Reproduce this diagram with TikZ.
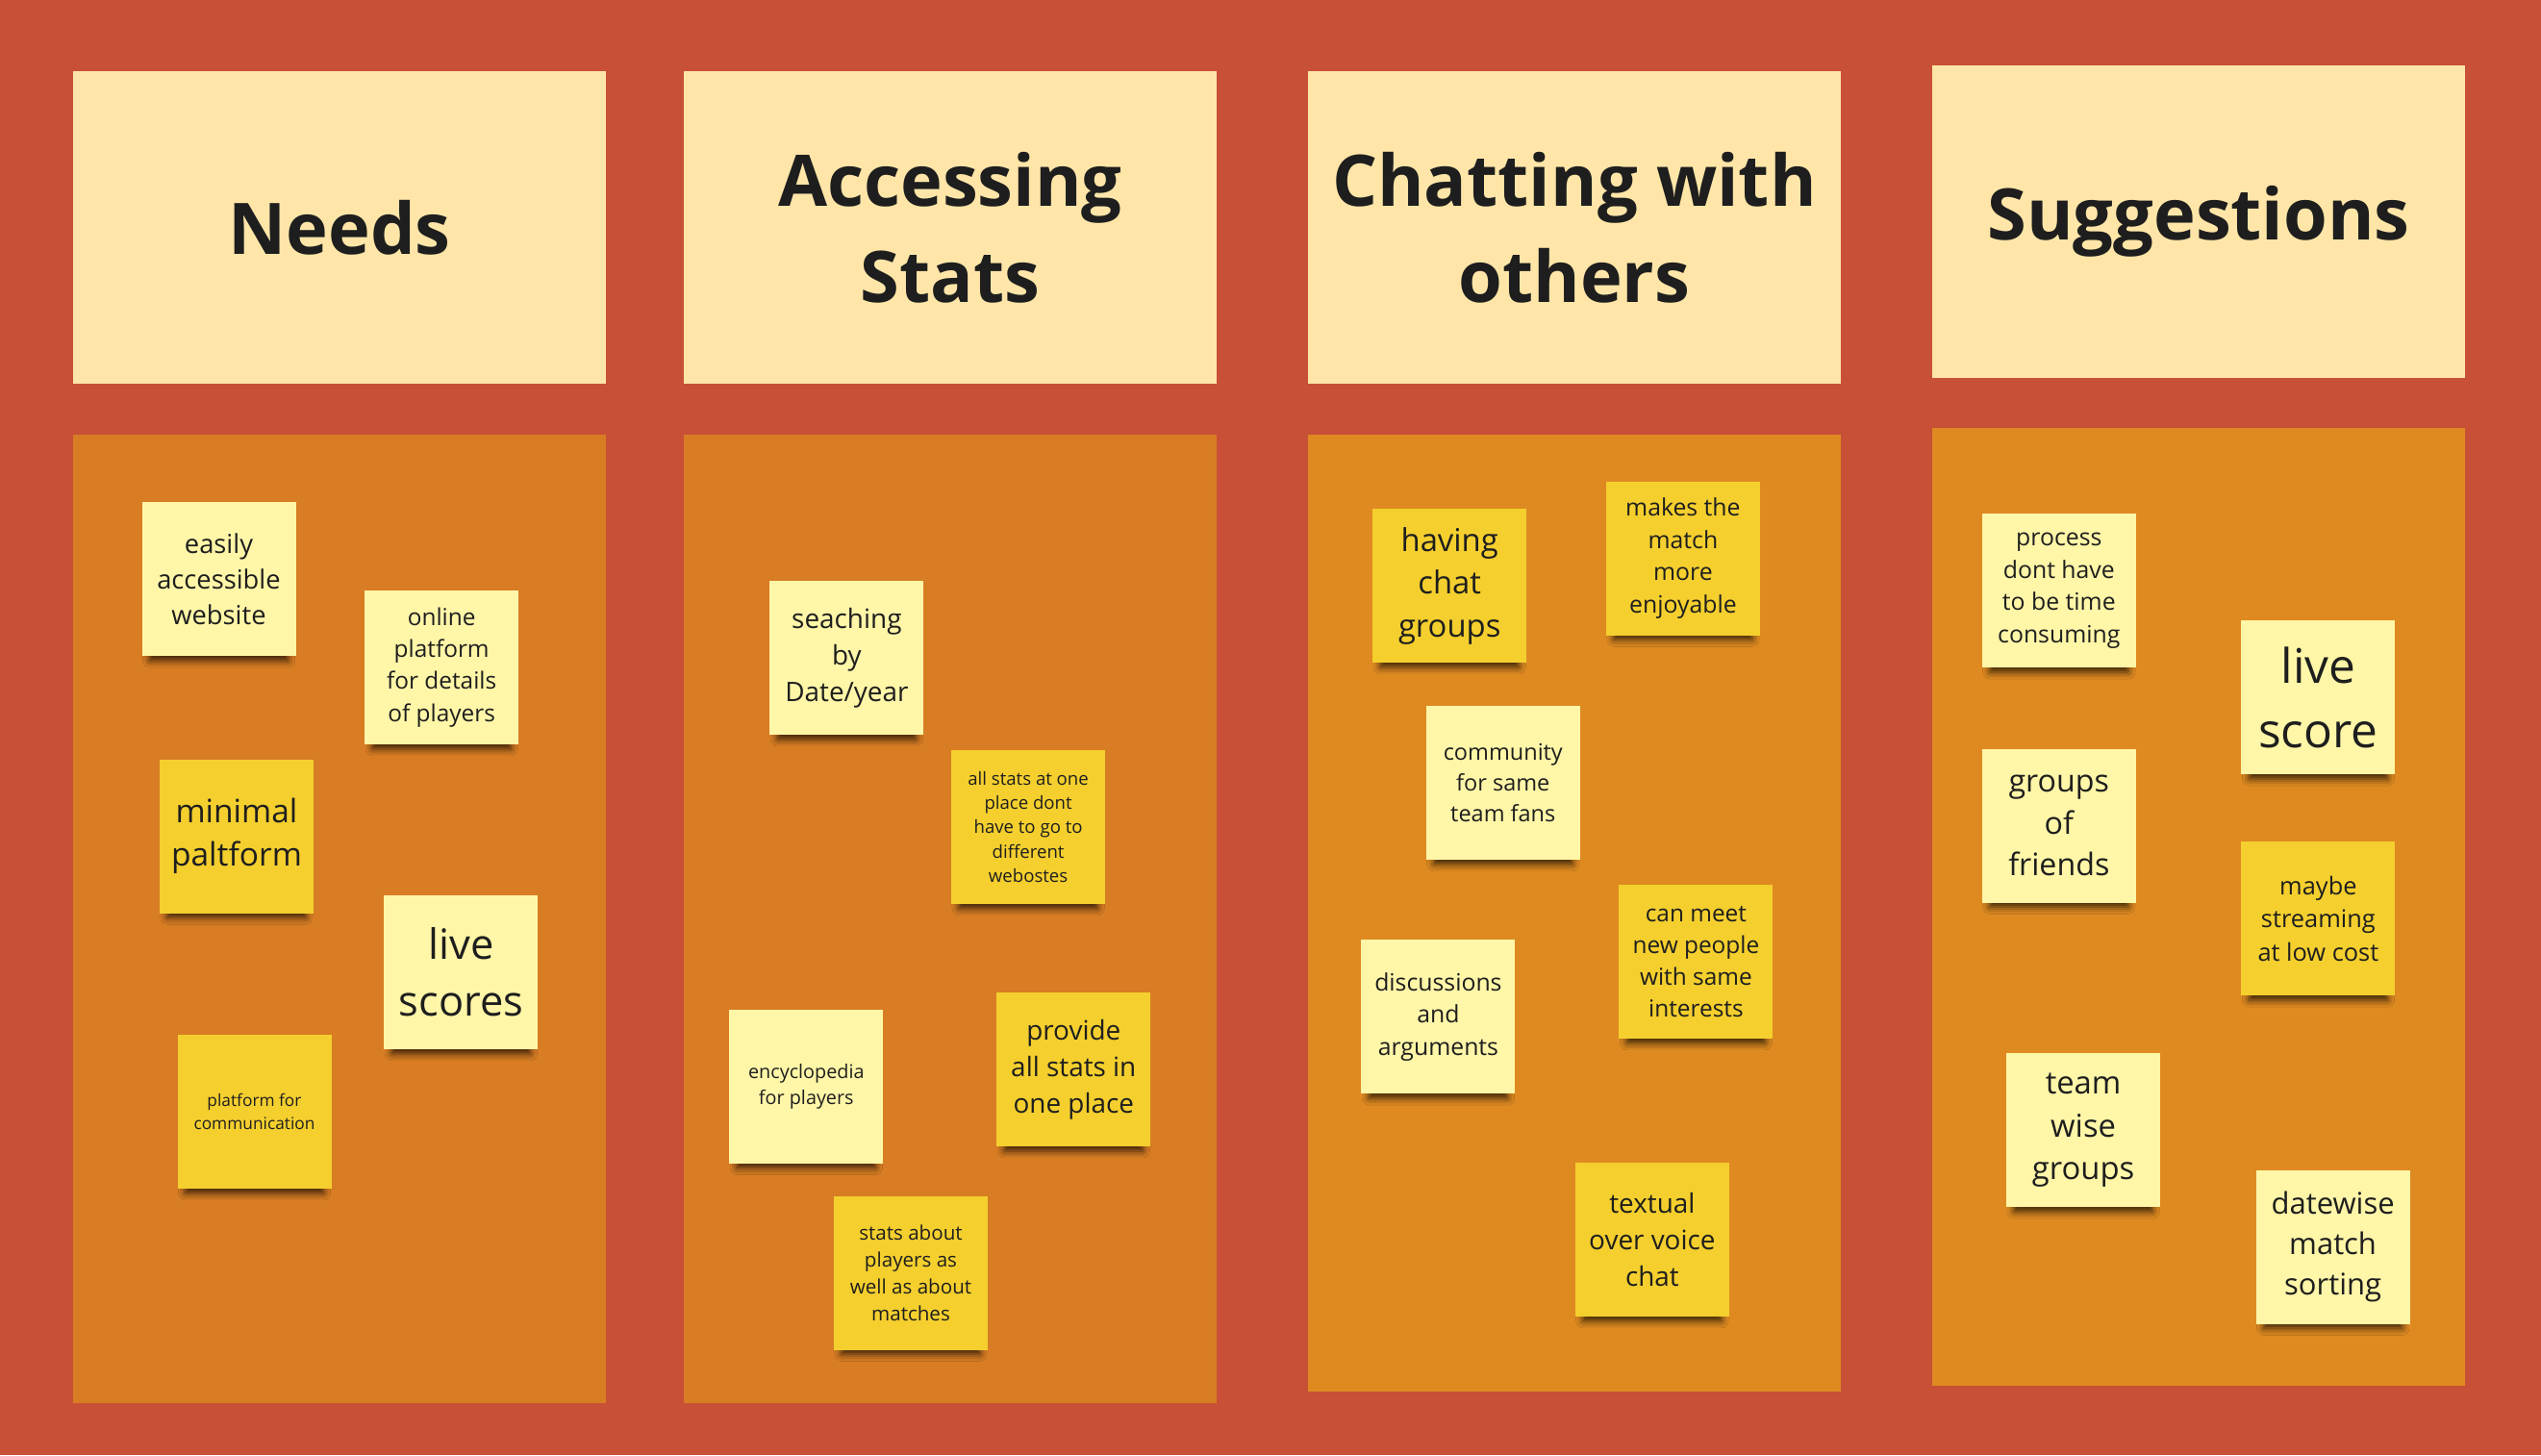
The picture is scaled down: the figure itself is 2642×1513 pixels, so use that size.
\documentclass[tikz,border=0pt]{standalone}
\usepackage{fontspec}
\setmainfont{Open Sans}
\usetikzlibrary{shadows.blur}

\definecolor{boardred}{HTML}{C75036}
\definecolor{headfill}{HTML}{FFE6A8}
\definecolor{laneA}{HTML}{D87D24}
\definecolor{laneB}{HTML}{DE8A21}
\definecolor{notelight}{HTML}{FFF6A8}
\definecolor{notedark}{HTML}{F4CF2E}
\definecolor{ink}{HTML}{1E1E1E}

\tikzset{
  header/.style={fill=headfill, minimum width=554pt, minimum height=325pt,
    inner sep=0pt, align=center, text=ink,
    font={\fontsize{74}{100}\selectfont\bfseries}},
  lane/.style={minimum width=554pt, inner sep=0pt},
  stickynote/.style={minimum width=160pt, minimum height=160pt, inner sep=0pt,
    align=center, text=ink,
    blur shadow={shadow xshift=0pt, shadow yshift=-14pt, shadow scale=0.9,
      shadow blur radius=8pt, shadow opacity=75}},
  light/.style={stickynote, fill=notelight},
  dark/.style={stickynote, fill=notedark},
}

% name, x, y, style, font size, line skip, text
\newcommand{\sticky}[7]{%
  \node[#4, font={\fontsize{#5}{#6}\selectfont}] (#1) at (#2,#3) {#7};}

\begin{document}
\begin{tikzpicture}[x=1pt, y=-1pt]
  \fill[boardred] (0,0) rectangle (2642,1513);
  \useasboundingbox (0,0) rectangle (2642,1513);

  % column headers
  \node[header] (hneeds) at (353,236.5) {Needs};
  \node[header] (hstats) at (988,236.5) {Accessing\\Stats};
  \node[header] (hchat)  at (1637,236.5) {Chatting with\\others};
  \node[header] (hsugg)  at (2286,230) {Suggestions};

  % lanes
  \node[lane, fill=laneA, minimum height=1007pt] (lneeds) at (353,955.5) {};
  \node[lane, fill=laneA, minimum height=1007pt] (lstats) at (988,955.5) {};
  \node[lane, fill=laneB, minimum height=995pt]  (lchat)  at (1637,949.5) {};
  \node[lane, fill=laneB, minimum height=996pt]  (lsugg)  at (2286,943) {};

  % Needs
  \sticky{n1}{227.5}{602.4}{light}{27.3}{37}{easily\\accessible\\website}
  \sticky{n2}{459.2}{694}{light}{24.4}{33.2}{online\\platform\\for details\\of players}
  \sticky{n3}{246}{869.5}{dark}{33.5}{45.5}{minimal\\paltform}
  \sticky{n4}{479.4}{1011}{light}{43.4}{59}{live\\scores}
  \sticky{n5}{264.5}{1156}{dark}{17.3}{23.6}{platform for\\communication}

  % Accessing Stats
  \sticky{s1}{880.4}{684.1}{light}{27.9}{37.9}{seaching\\by\\Date/year}
  \sticky{s2}{1069.1}{860}{dark}{18.6}{25.3}{all stats at one\\place dont\\have to go to\\different\\webostes}
  \sticky{s3}{838.3}{1129.8}{light}{19.8}{27}{encyclopedia\\for players}
  \sticky{s4}{1116.3}{1112.1}{dark}{27.9}{37.9}{provide\\all stats in\\one place}
  \sticky{s5}{947}{1323.5}{dark}{20.6}{28}{stats about\\players as\\well as about\\matches}

  % Chatting with others
  \sticky{c1}{1507.2}{609.1}{dark}{32.8}{44.6}{having\\chat\\groups}
  \sticky{c2}{1749.9}{580.5}{dark}{24.8}{33.7}{makes the\\match\\more\\enjoyable}
  \sticky{c3}{1562.8}{814}{light}{23.5}{32}{community\\for same\\team fans}
  \sticky{c4}{1495.4}{1057.3}{light}{24.8}{33.7}{discussions\\and\\arguments}
  \sticky{c5}{1763.4}{1000}{dark}{24.4}{33.2}{can meet\\new people\\with same\\interests}
  \sticky{c6}{1717.9}{1289}{dark}{27.9}{37.9}{textual\\over voice\\chat}

  % Suggestions
  \sticky{g1}{2140.8}{614.2}{light}{24.8}{33.7}{process\\dont have\\to be time\\consuming}
  \sticky{g2}{2410.4}{725.4}{light}{49.6}{67.4}{live\\score}
  \sticky{g3}{2140.8}{858.5}{light}{32.2}{43.8}{groups\\of\\friends}
  \sticky{g4}{2410.4}{955.4}{dark}{25.4}{34.5}{maybe\\streaming\\at low cost}
  \sticky{g5}{2166.1}{1175.3}{light}{32.8}{44.6}{team\\wise\\groups}
  \sticky{g6}{2425.6}{1296.6}{light}{31}{42}{datewise\\match\\sorting}
\end{tikzpicture}
\end{document}
